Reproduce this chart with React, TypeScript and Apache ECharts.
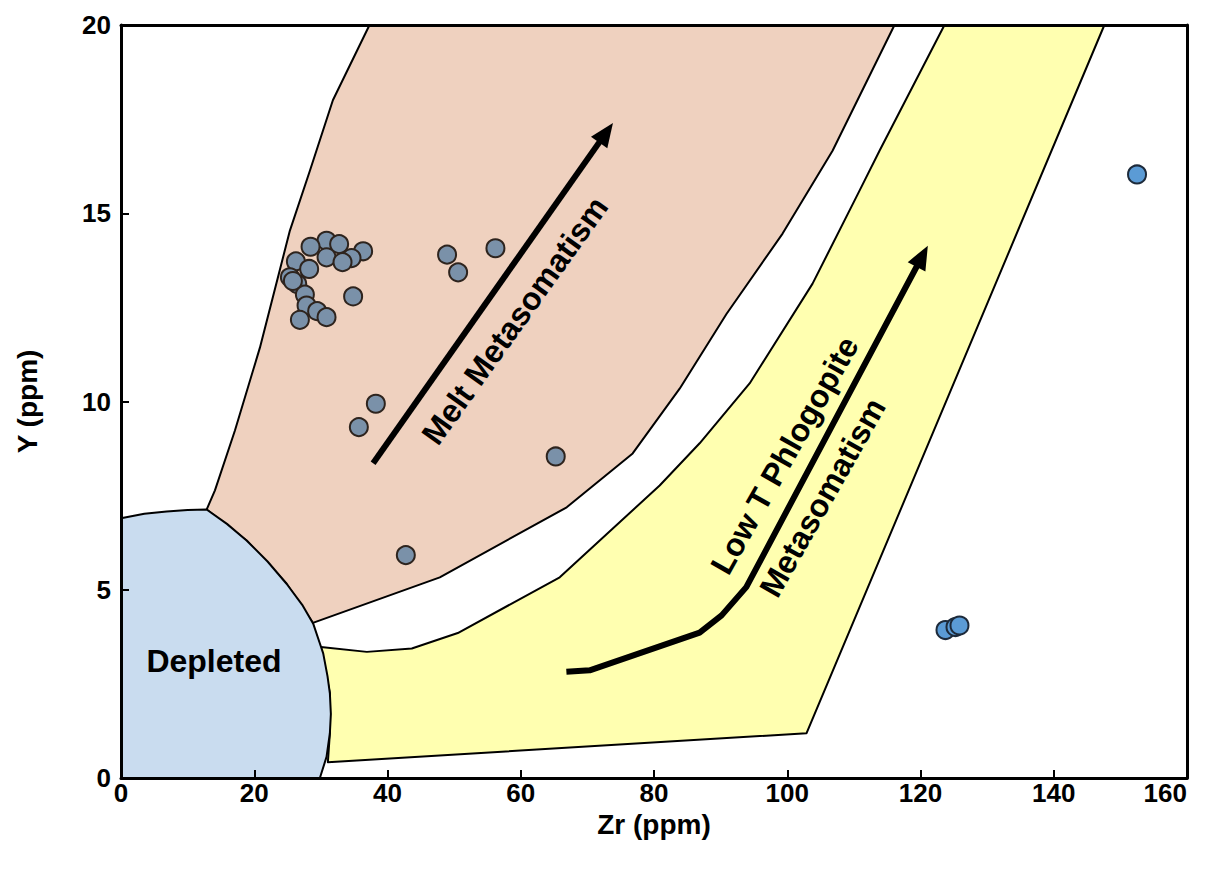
import React, { useEffect, useRef } from "react";
import * as echarts from "echarts";

// Axis ranges and ticks
const xTicks = [0, 20, 40, 60, 80, 100, 120, 140, 160];
const yTicks = [0, 5, 10, 15, 20];

// Field outlines (Zr ppm, Y ppm)
const depletedField: [number, number][] = [
  [0, 6.9], [3.5, 7.02], [6.85, 7.08], [10, 7.12], [12.85, 7.13], [15.9, 6.75], [18.85, 6.31],
  [22, 5.75], [24.85, 5.16], [27.2, 4.6], [28.85, 4.1], [29.8, 3.6], [30.35, 3.31],
  [31.0, 2.7], [31.35, 2.25], [31.5, 1.7], [31.35, 1.19], [30.85, 0.56], [29.85, 0], [0, 0],
];

const meltField: [number, number][] = [
  [37.3, 20], [31.8, 18.0], [28.35, 16.13], [25.35, 14.54], [20.85, 11.43], [17.1, 9.23],
  [14.1, 7.64], [12.85, 7.13], [18.85, 6.31], [24.85, 5.16], [28.8, 4.12], [47.85, 5.33],
  [66.9, 7.19], [76.8, 8.62], [83.85, 10.34], [90.9, 12.33], [99.3, 14.46], [106.8, 16.66],
  [116.1, 20],
];

const phlogopiteField: [number, number][] = [
  [123.6, 20], [113.85, 16.66], [110.85, 15.6], [103.8, 13.13], [94.35, 10.48], [86.85, 8.89],
  [80.85, 7.77], [65.85, 5.33], [50.55, 3.85], [43.65, 3.44], [36.9, 3.35], [30.0, 3.48],
  [30.5, 3.0], [31.35, 2.25], [31.35, 1.19], [31.05, 0.42], [102.9, 1.19], [147.6, 20],
];

// Trend arrows
const meltTrend: [number, number][] = [[37.84, 8.36], [73.84, 17.4]];
const phlogopiteTrend: [number, number][] = [
  [66.85, 2.82], [70.35, 2.86], [86.85, 3.86], [90.15, 4.32], [93.85, 5.07], [121.1, 14.14],
];

// Peridotite samples
const sampleZr = [
  30.85, 32.74, 28.45, 36.34, 30.85, 34.6, 33.25, 26.25, 28.24, 25.35, 26.45, 25.8,
  27.6, 34.84, 27.85, 29.44, 30.85, 26.85, 48.94, 50.6, 56.2, 38.25, 35.7, 65.25, 42.75,
];
const sampleY = [
  14.27, 14.18, 14.11, 13.99, 13.83, 13.81, 13.7, 13.72, 13.52, 13.3, 13.12, 13.2,
  12.84, 12.79, 12.55, 12.4, 12.24, 12.17, 13.9, 13.43, 14.07, 9.94, 9.32, 8.54, 5.92,
];

const otherZr = [123.75, 125.25, 125.85, 152.5];
const otherY = [3.93, 4.01, 4.05, 16.03];

// Field and trend labels
const fieldLabels = [
  { text: "Depleted", at: [13.95, 3.1], angle: 0 },
  { text: "Melt Metasomatism", at: [59.1, 12.15], angle: 54.5 },
  { text: "Low T Phlogopite", at: [99.6, 8.57], angle: 60.5 },
  { text: "Metasomatism", at: [105.3, 7.45], angle: 60.5 },
];

const FONT = '"Liberation Sans", Arial, sans-serif';

function polygonSeries(name: string, pts: [number, number][], fill: string, z: number) {
  return {
    name,
    type: "custom",
    z,
    silent: true,
    data: [0],
    renderItem: (_params: any, api: any) => ({
      type: "polygon",
      shape: { points: pts.map((p) => api.coord(p)) },
      style: { fill, stroke: "#000", lineWidth: 2, lineJoin: "round" },
    }),
  };
}

// Thick trend line ending in a filled arrowhead
function arrowSeries(name: string, pts: [number, number][]) {
  return {
    name,
    type: "custom",
    z: 3,
    silent: true,
    data: [0],
    renderItem: (_params: any, api: any) => {
      const c = pts.map((p) => api.coord(p));
      const [x1, y1] = c[c.length - 2];
      const [x2, y2] = c[c.length - 1];
      const a = Math.atan2(y2 - y1, x2 - x1);
      const headLen = 24;
      const headHalf = 10;
      const bx = x2 - headLen * Math.cos(a);
      const by = y2 - headLen * Math.sin(a);
      const endX = x2 - (headLen - 6) * Math.cos(a);
      const endY = y2 - (headLen - 6) * Math.sin(a);
      const linePts = [...c.slice(0, -1), [endX, endY]];
      return {
        type: "group",
        children: [
          {
            type: "polyline",
            shape: { points: linePts },
            style: { stroke: "#000", lineWidth: 6, fill: "none", lineJoin: "round" },
          },
          {
            type: "polygon",
            shape: {
              points: [
                [x2, y2],
                [bx - headHalf * Math.sin(a), by + headHalf * Math.cos(a)],
                [bx + headHalf * Math.sin(a), by - headHalf * Math.cos(a)],
              ],
            },
            style: { fill: "#000" },
          },
        ],
      };
    },
  };
}

export default function App() {
  const ref = useRef<HTMLDivElement>(null);

  useEffect(() => {
    if (!ref.current) return;
    const chart = echarts.init(ref.current, undefined, { renderer: "svg" });

    const frameAxis = {
      type: "value",
      axisLine: { show: true, onZero: false, lineStyle: { color: "#000", width: 3 } },
      axisTick: { show: false },
      axisLabel: { show: false },
      splitLine: { show: false },
      z: 10,
    };

    chart.setOption({
      animation: false,
      backgroundColor: "#fff",
      grid: { left: 121, right: 38, top: 25, bottom: 99 },
      xAxis: [
        {
          type: "value",
          min: 0,
          max: 160,
          interval: 20,
          position: "bottom",
          z: 10,
          axisLine: { show: true, onZero: false, lineStyle: { color: "#000", width: 3 } },
          axisTick: { show: true, inside: true, length: 8, lineStyle: { color: "#000", width: 2 } },
          splitLine: { show: false },
          axisLabel: {
            color: "#000",
            fontSize: 26,
            fontWeight: "bold",
            fontFamily: FONT,
            margin: 2,
            alignMaxLabel: "right",
            formatter: (v: number) => (xTicks.includes(v) ? String(v) : ""),
          },
          name: "Zr (ppm)",
          nameLocation: "middle",
          nameGap: 27,
          nameTextStyle: { color: "#000", fontSize: 28, fontWeight: "bold", fontFamily: FONT },
        },
        { ...frameAxis, min: 0, max: 160, position: "top" },
      ],
      yAxis: [
        {
          type: "value",
          min: 0,
          max: 20,
          interval: 5,
          position: "left",
          z: 10,
          axisLine: { show: true, onZero: false, lineStyle: { color: "#000", width: 3 } },
          axisTick: { show: true, inside: true, length: 8, lineStyle: { color: "#000", width: 2 } },
          splitLine: { show: false },
          axisLabel: {
            color: "#000",
            fontSize: 26,
            fontWeight: "bold",
            fontFamily: FONT,
            margin: 10,
            formatter: (v: number) => (yTicks.includes(v) ? String(v) : ""),
          },
          name: "Y (ppm)",
          nameLocation: "middle",
          nameGap: 80,
          nameTextStyle: { color: "#000", fontSize: 28, fontWeight: "bold", fontFamily: FONT },
        },
        { ...frameAxis, min: 0, max: 20, position: "right" },
      ],
      series: [
        polygonSeries("Melt metasomatism field", meltField, "#efd1bf", 1),
        polygonSeries("Low T phlogopite field", phlogopiteField, "#ffffb0", 1),
        polygonSeries("Depleted field", depletedField, "#c9dcef", 2),
        arrowSeries("Melt trend", meltTrend),
        arrowSeries("Phlogopite trend", phlogopiteTrend),
        {
          name: "Samples",
          type: "scatter",
          z: 4,
          symbol: "circle",
          symbolSize: 18,
          itemStyle: { color: "#7a91a9", borderColor: "#2e241e", borderWidth: 2, opacity: 1 },
          data: sampleZr.map((x, i) => [x, sampleY[i]]),
        },
        {
          name: "Other",
          type: "scatter",
          z: 4,
          symbol: "circle",
          symbolSize: 18,
          itemStyle: { color: "#5b9bd5", borderColor: "#1d2a3a", borderWidth: 2, opacity: 1 },
          data: otherZr.map((x, i) => [x, otherY[i]]),
        },
        {
          name: "Labels",
          type: "custom",
          z: 5,
          silent: true,
          data: fieldLabels.map((_, i) => i),
          renderItem: (params: any, api: any) => {
            const lab = fieldLabels[params.dataIndex];
            const [px, py] = api.coord(lab.at);
            return {
              type: "text",
              x: px,
              y: py,
              rotation: (lab.angle * Math.PI) / 180,
              style: {
                text: lab.text,
                fill: "#000",
                fontSize: 32,
                fontWeight: "bold",
                fontFamily: FONT,
                align: "center",
                verticalAlign: "middle",
                textAlign: "center",
                textVerticalAlign: "middle",
              },
            };
          },
        },
      ],
    });

    return () => chart.dispose();
  }, []);

  return (
    <div
      ref={ref}
      style={{ position: "fixed", left: 0, top: 0, width: 1225, height: 877, background: "#fff" }}
    />
  );
}
